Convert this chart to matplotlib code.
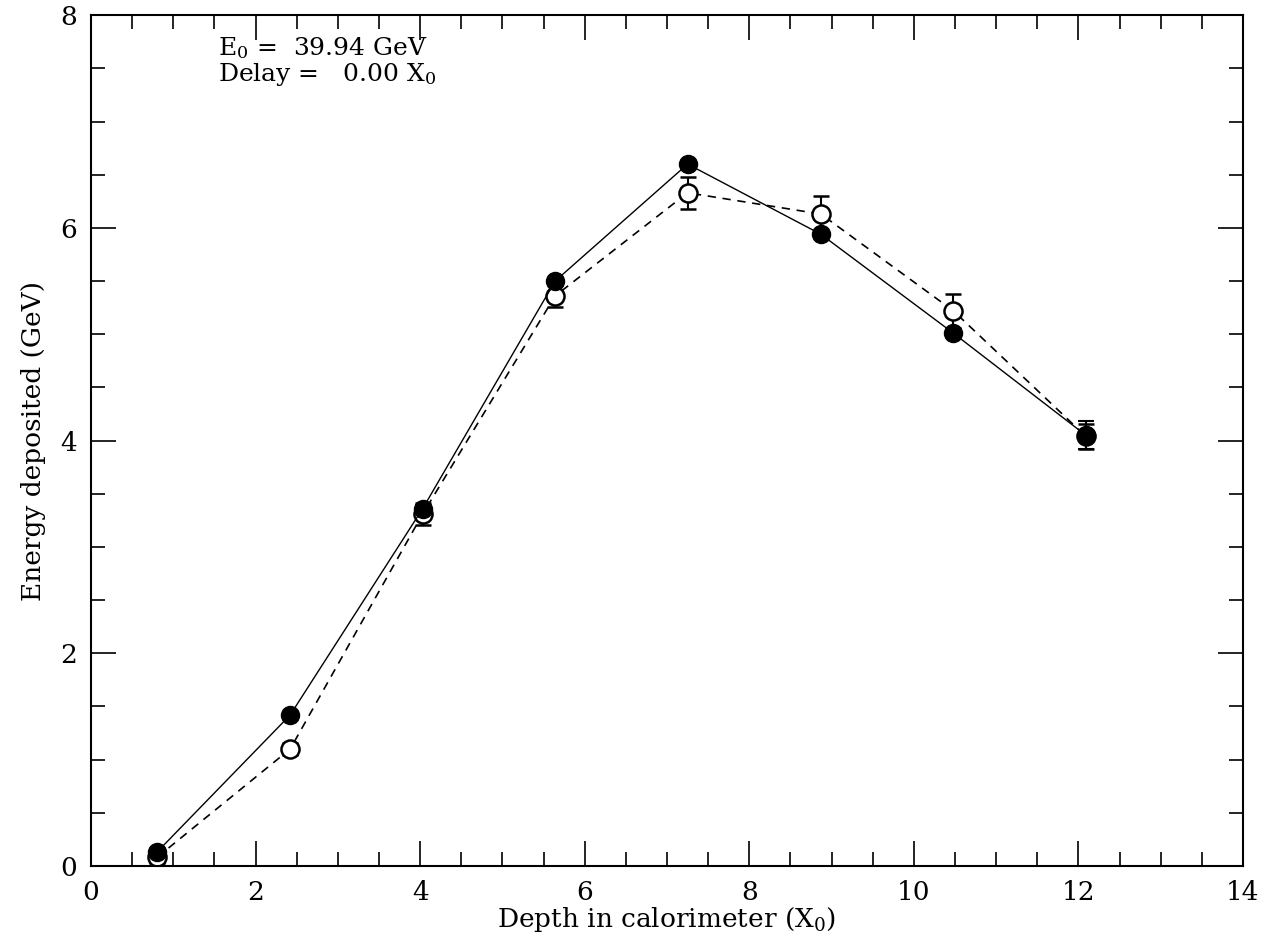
import numpy as np
import matplotlib
matplotlib.use("Agg")
from matplotlib import pyplot as plt
from matplotlib.ticker import MultipleLocator

# data
depth = [0.80, 2.42, 4.03, 5.64, 7.25, 8.87, 10.48, 12.09]
e_filled = [0.13, 1.42, 3.36, 5.50, 6.60, 5.94, 5.01, 4.05]
err_filled = [0.02, 0.02, 0.03, 0.03, 0.03, 0.03, 0.03, 0.13]
e_open = [0.08, 1.10, 3.31, 5.36, 6.33, 6.13, 5.22, 4.04]
err_open = [0.05, 0.06, 0.10, 0.10, 0.15, 0.17, 0.16, 0.12]

plt.rcParams['font.family'] = ['DejaVu Serif']
plt.rcParams['mathtext.fontset'] = 'dejavuserif'

fig = plt.figure(figsize=(12.65, 9.48), dpi=100)
ax = fig.add_axes([0.072, 0.0865, 0.9106, 0.8975])

# open points, dashed
ax.errorbar(depth, e_open, yerr=err_open, color='black', ls=(0, (5, 4)), lw=1.2,
            marker='o', ms=13, mfc='white', mec='black', mew=1.8,
            capsize=6, elinewidth=1.5, capthick=1.5, zorder=2)
# filled points, solid
ax.errorbar(depth, e_filled, yerr=err_filled, color='black', ls='-', lw=1.0,
            marker='o', ms=13, mfc='black', mec='black',
            capsize=6, elinewidth=1.5, capthick=1.5, zorder=3)

ax.set_xlim(0, 14)
ax.set_ylim(0, 8)
ax.xaxis.set_major_locator(MultipleLocator(2))
ax.xaxis.set_minor_locator(MultipleLocator(0.5))
ax.yaxis.set_major_locator(MultipleLocator(2))
ax.yaxis.set_minor_locator(MultipleLocator(0.5))
ax.tick_params(which='both', direction='in', top=True, right=True, labelsize=19, width=1.2)
ax.tick_params(which='major', length=18, pad=10)
ax.tick_params(which='minor', length=10)
for s in ax.spines.values():
    s.set_linewidth(1.5)

ax.set_xlabel('Depth in calorimeter (X$_0$)', fontsize=19, labelpad=0)
ax.set_ylabel('Energy deposited (GeV)', fontsize=19, labelpad=10)

ax.text(1.54, 7.69, 'E$_0$ =  39.94 GeV', fontsize=18, va='center')
ax.text(1.54, 7.44, 'Delay =   0.00 X$_0$', fontsize=18, va='center')

plt.savefig('out.png', dpi=100)
